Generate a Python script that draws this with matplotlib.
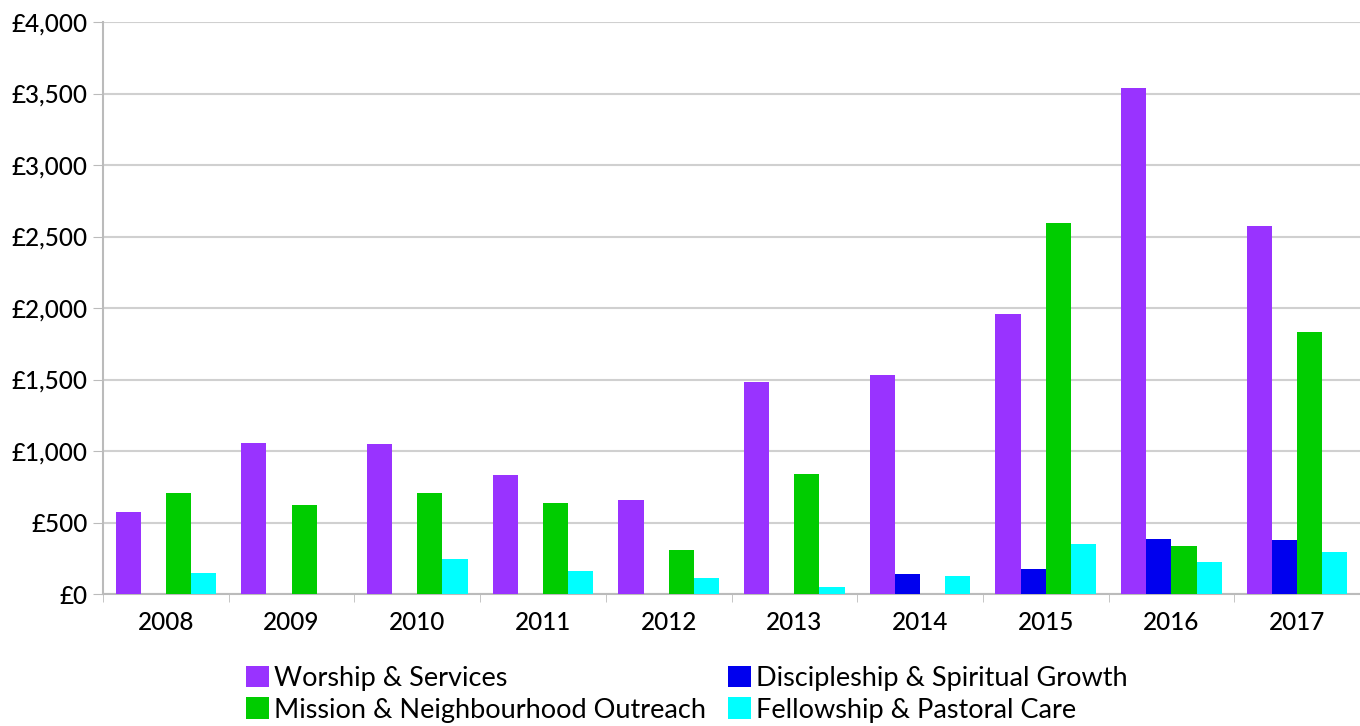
import numpy as np
import matplotlib.pyplot as plt
from matplotlib.ticker import FuncFormatter

plt.rcParams['font.family'] = ['Lato', 'DejaVu Sans']

# data
years = ["2008", "2009", "2010", "2011", "2012", "2013", "2014", "2015", "2016", "2017"]
worship = [576, 1055, 1048, 831, 655, 1480, 1529, 1958, 3535, 2571]
discipleship = [0, 0, 0, 0, 0, 0, 140, 174, 386, 379]
mission = [705, 625, 707, 639, 305, 837, 0, 2596, 334, 1831]
fellowship = [149, 0, 243, 161, 114, 51, 123, 349, 224, 291]

series = [
    ("Worship & Services", worship, "#9933ff"),
    ("Discipleship & Spiritual Growth", discipleship, "#0000ee"),
    ("Mission & Neighbourhood Outreach", mission, "#00cc00"),
    ("Fellowship & Pastoral Care", fellowship, "#00ffff"),
]

fig = plt.figure(figsize=(13.6, 7.26), dpi=100)
ax = fig.add_axes([103 / 1360, 1 - 594 / 726, 1 - 103 / 1360, (594 - 22) / 726])

x = np.arange(len(years))
width = 0.2
bars = {}
for i, (name, vals, color) in enumerate(series):
    bars[name] = ax.bar(x + (i - 1.5) * width, vals, width, color=color, label=name, zorder=3)

ax.set_xlim(-0.5, 9.45)
ax.set_ylim(0, 4000)
ax.set_yticks(np.arange(0, 4001, 500))
ax.yaxis.set_major_formatter(FuncFormatter(lambda v, p: "£{:,.0f}".format(v)))
ax.set_xticks(x)
ax.set_xticklabels(years)
ax.set_xticks(np.arange(-0.5, 10, 1), minor=True)
ax.tick_params(axis="x", which="major", length=0, pad=12, labelsize=17.5)
ax.tick_params(axis="x", which="minor", length=6, color="#bbbbbb")
ax.tick_params(axis="y", length=7, color="#bbbbbb", labelsize=17.5, pad=4)
for lbl in ax.get_xticklabels() + ax.get_yticklabels():
    lbl.set_fontweight("medium")
ax.grid(axis="y", color="#d0d0d0", linewidth=1.5, zorder=0)

for side in ["top", "right"]:
    ax.spines[side].set_visible(False)
for side in ["left", "bottom"]:
    ax.spines[side].set_color("#bbbbbb")
    ax.spines[side].set_linewidth(1.5)

# legend order: column 1 Worship, Mission; column 2 Discipleship, Fellowship
order = ["Worship & Services", "Mission & Neighbourhood Outreach",
         "Discipleship & Spiritual Growth", "Fellowship & Pastoral Care"]
fig.legend([bars[n] for n in order], order, ncol=2, loc="upper center",
           bbox_to_anchor=(687 / 1360, 1 - 652 / 726), frameon=False,
           fontsize=19.5, handlelength=0.85, handleheight=0.85, handletextpad=0.2,
           columnspacing=0.8, labelspacing=0.25, borderpad=0)

plt.savefig("out.png", dpi=100)
